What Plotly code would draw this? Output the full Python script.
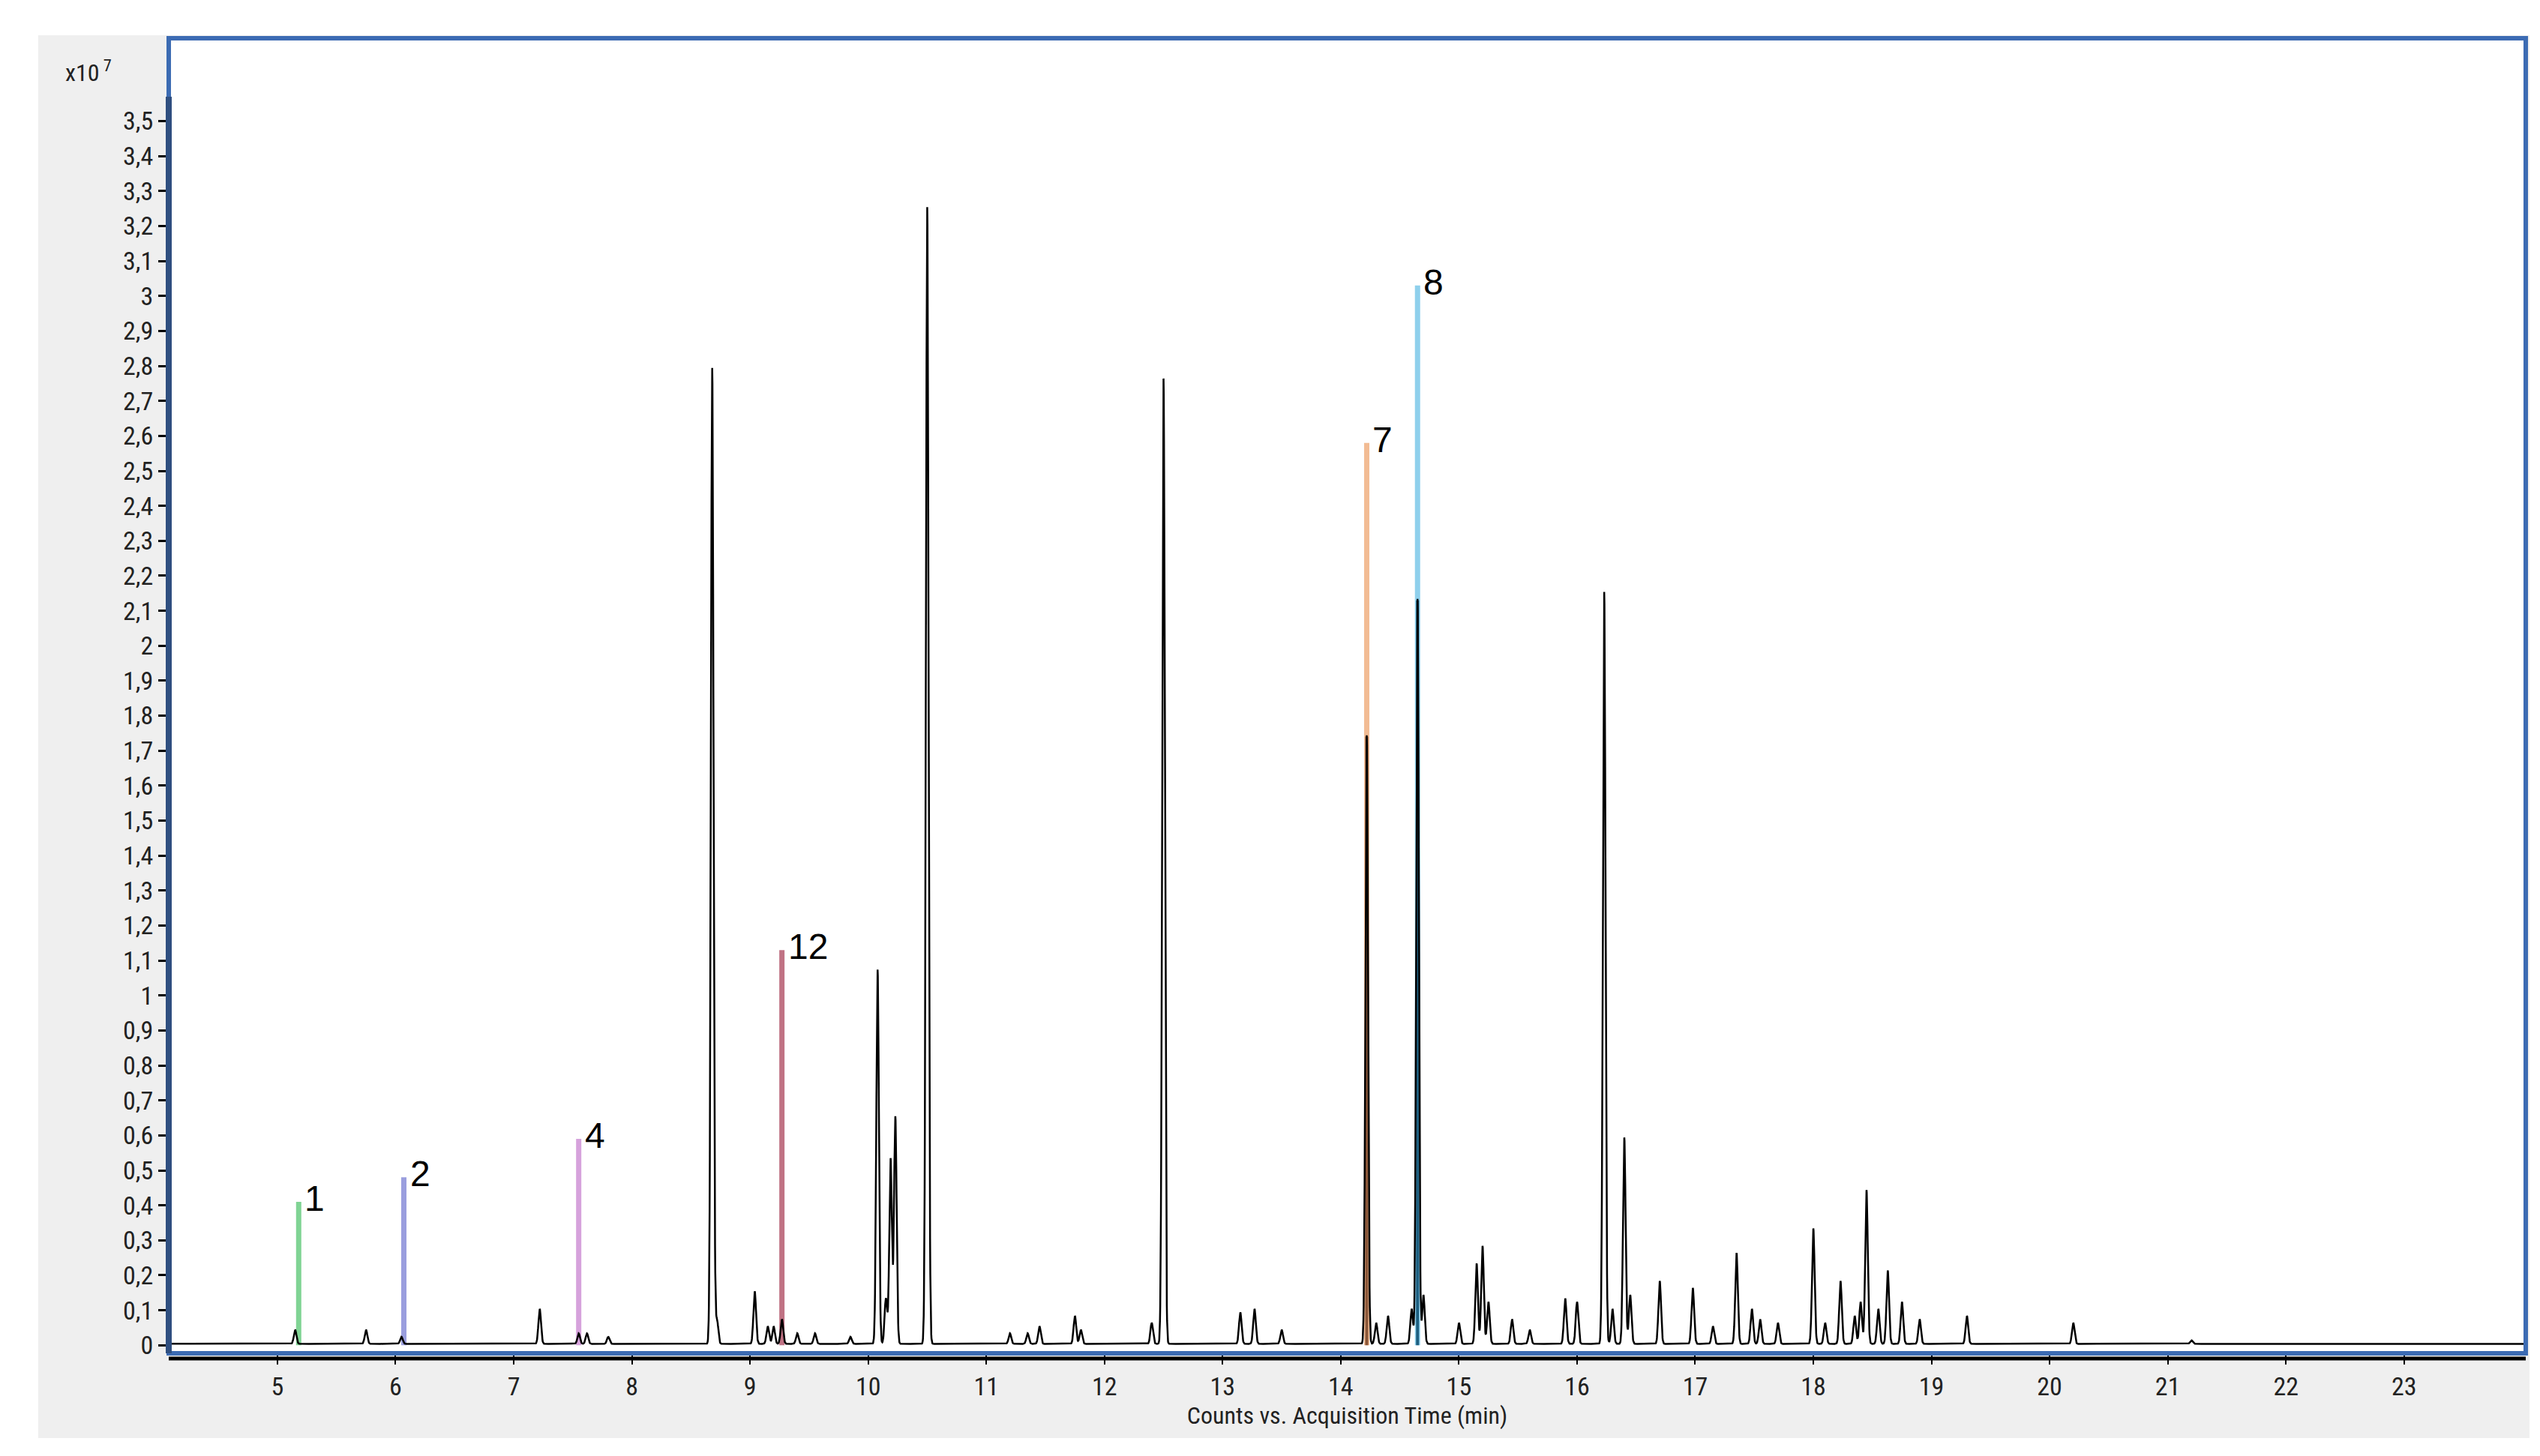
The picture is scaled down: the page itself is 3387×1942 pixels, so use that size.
import numpy as np
import plotly.graph_objects as go

# Main chromatogram peaks (time min, height x1e7)
peak_times = [5.15, 5.75, 6.05, 7.22, 7.55, 7.62, 7.8, 8.68, 8.72, 9.04, 9.15, 9.2, 9.27, 9.4, 9.55, 9.85,
              10.08, 10.15, 10.19, 10.23, 10.5, 11.2, 11.35, 11.45, 11.75, 11.8, 12.4, 12.5,
              13.15, 13.27, 13.5, 14.22, 14.3, 14.4, 14.6, 14.65, 14.7, 15.0, 15.15, 15.2, 15.25, 15.45, 15.6,
              15.9, 16.0, 16.23, 16.3, 16.4, 16.45, 16.7, 16.98, 17.15, 17.35, 17.48, 17.55, 17.7,
              18.0, 18.1, 18.23, 18.35, 18.4, 18.45, 18.55, 18.63, 18.75, 18.9, 19.3, 20.2, 21.2]
peak_heights = [0.04, 0.04, 0.02, 0.10, 0.03, 0.03, 0.02, 2.79, 0.07, 0.15, 0.05, 0.05, 0.07, 0.03, 0.03, 0.02,
                1.07, 0.13, 0.53, 0.65, 3.25, 0.03, 0.03, 0.05, 0.08, 0.04, 0.06, 2.76,
                0.09, 0.10, 0.04, 1.74, 0.06, 0.08, 0.10, 2.13, 0.14, 0.06, 0.23, 0.28, 0.12, 0.07, 0.04,
                0.13, 0.12, 2.15, 0.10, 0.59, 0.14, 0.18, 0.16, 0.05, 0.26, 0.10, 0.07, 0.06,
                0.33, 0.06, 0.18, 0.08, 0.12, 0.44, 0.10, 0.21, 0.12, 0.07, 0.08, 0.06, 0.01]

# Labelled compound peaks
label_names = ["1", "2", "4", "12", "7", "8"]
label_times = [5.18, 6.07, 7.55, 9.27, 14.22, 14.65]
label_heights = [0.41, 0.48, 0.59, 1.13, 2.58, 3.03]
label_colors = ["#80d494", "#9a9ede", "#d6a2dc", "#c07284", "#f2bc94", "#8fd0ec"]
# darker inner parts of labelled peaks 7 and 8
inner_times = [14.22, 14.65]
inner_heights = [1.74, 2.13]
inner_colors = ["#8a5638", "#1d5f80"]

ytick_vals = [round(0.1 * i, 1) for i in range(36)]
ytick_text = [("%g" % v).replace(".", ",") for v in ytick_vals]
xtick_vals = list(range(5, 24))

t = np.arange(4.0, 24.05, 0.002)
sig = 0.011
y = np.full_like(t, 0.004)
for pt, ph in zip(peak_times, peak_heights):
    y += ph * np.exp(-0.5 * ((t - pt) / sig) ** 2)

fig = go.Figure()
for lt, lh, lc in zip(label_times, label_heights, label_colors):
    fig.add_trace(go.Scatter(x=[lt, lt], y=[0, lh], mode="lines", line=dict(color=lc, width=7), hoverinfo="skip"))
for it, ih, ic in zip(inner_times, inner_heights, inner_colors):
    fig.add_trace(go.Scatter(x=[it, it], y=[0, ih], mode="lines", line=dict(color=ic, width=4), hoverinfo="skip"))
fig.add_trace(go.Scatter(x=t, y=y, mode="lines", line=dict(color="black", width=2.5), hoverinfo="skip"))

for n, lt, lh in zip(label_names, label_times, label_heights):
    fig.add_annotation(x=lt, y=lh, text=n, showarrow=False, xanchor="left", yanchor="bottom",
                       xshift=6, yshift=-24, font=dict(size=48, color="black", family="Liberation Sans"))

fig.update_layout(
    width=3387, height=1942, showlegend=False,
    margin=dict(l=217, r=27, t=43, b=145),
    paper_bgcolor="white", plot_bgcolor="white",
    font=dict(family="Liberation Sans Narrow, Roboto Condensed, Liberation Sans", size=34, color="#222"),
    xaxis=dict(range=[4.08, 24.03], tickvals=xtick_vals, ticks="outside", ticklen=14, tickcolor="black",
               tickwidth=2, showgrid=False, zeroline=False, showline=False,
               title=dict(text="Counts vs. Acquisition Time (min)", font=dict(size=32), standoff=4)),
    yaxis=dict(range=[-0.023, 3.737], tickvals=ytick_vals, ticktext=ytick_text, ticks="outside", ticklen=13,
               tickcolor="black", tickwidth=3, showgrid=False, zeroline=False, showline=False),
    shapes=[
        dict(type="rect", xref="paper", yref="paper", x0=-0.0554, x1=1.0016, y0=-0.0644, y1=1.0023,
             fillcolor="#efefef", line=dict(width=0), layer="below"),
        dict(type="rect", xref="paper", yref="paper", x0=0, x1=1, y0=0, y1=1,
             fillcolor="white", line=dict(width=0), layer="below"),
        dict(type="rect", xref="paper", yref="paper", x0=0, x1=1, y0=0, y1=1,
             line=dict(color="#3c6bb3", width=6), fillcolor="rgba(0,0,0,0)"),
        dict(type="line", xref="paper", yref="y", x0=0, x1=0, y0=-0.023, y1=3.57,
             line=dict(color="#2f4f80", width=8)),
        dict(type="line", xref="paper", yref="paper", x0=0, x1=1, y0=-0.004, y1=-0.004,
             line=dict(color="black", width=5)),
    ],
)
fig.add_annotation(xref="paper", yref="paper", x=-0.0236, y=0.975, text="x10<sup> 7</sup>", showarrow=False,
                   xanchor="right", yanchor="middle", font=dict(size=32))
fig.write_html("out.html")
